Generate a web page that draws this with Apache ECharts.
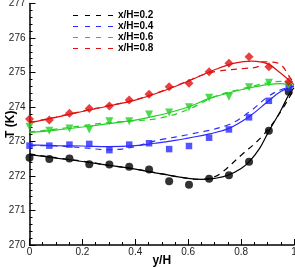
<!DOCTYPE html>
<html>
<head>
<meta charset="utf-8">
<script src="https://cdn.jsdelivr.net/npm/echarts@6/dist/echarts.min.js"></script>
<style>
html,body{margin:0;padding:0;background:#fff;}
#chart{width:295px;height:268px;}
</style>
</head>
<body>
<div id="chart"></div>
<script>
// Experimental points (y/H positions)
var expX = [0, 0.075, 0.151, 0.226, 0.302, 0.377, 0.452, 0.528, 0.603, 0.679, 0.754, 0.83, 0.905, 0.98];
var expBlack = [272.53, 272.49, 272.51, 272.34, 272.33, 272.27, 272.19, 271.85, 271.75, 271.92, 272.02, 272.41, 273.31, 274.44];
var expBlue  = [272.88, 272.88, 272.91, 272.93, 272.75, 272.91, 272.95, 272.78, 272.87, 273.11, 273.35, 273.70, 274.18, 274.56];
var expGreen = [273.43, 273.31, 273.38, 273.35, 273.59, 273.59, 273.78, 273.84, 273.99, 274.27, 274.30, 274.57, 274.70, 274.64];
var expRed   = [273.65, 273.62, 273.82, 273.96, 274.03, 274.20, 274.37, 274.59, 274.69, 275.02, 275.27, 275.46, 275.17, 274.73];

// Solid model curves
var blackSolidX = [0, 0.1, 0.2, 0.3, 0.4, 0.5, 0.6, 0.65, 0.7, 0.75, 0.8, 0.83, 0.87, 0.905, 0.95, 0.985, 1.0];
var blackSolidY = [272.62, 272.52, 272.42, 272.31, 272.2, 272.06, 271.93, 271.9, 271.93, 272.02, 272.22, 272.41, 272.8, 273.3, 273.9, 274.42, 274.55];
// Dashed model curves
var blackDashX = [0, 0.1, 0.2, 0.3, 0.4, 0.5, 0.6, 0.65, 0.7, 0.73, 0.8, 0.878, 0.94, 1.0];
var blackDashY = [272.64, 272.53, 272.43, 272.31, 272.2, 272.06, 271.93, 271.9, 271.98, 272.12, 272.6, 273.14, 273.75, 274.52];

var blueSolidX = [0, 0.1, 0.2, 0.3, 0.4, 0.475, 0.55, 0.6, 0.68, 0.754, 0.83, 0.9, 0.95, 1.0];
var blueSolidY = [272.9, 272.88, 272.87, 272.85, 272.88, 272.95, 273.03, 273.1, 273.22, 273.38, 273.72, 274.15, 274.45, 274.6];
var blueDashX = [0, 0.1, 0.2, 0.3, 0.4, 0.45, 0.5, 0.6, 0.75, 0.83, 0.9, 0.95, 1.0];
var blueDashY = [272.88, 272.87, 272.82, 272.76, 272.85, 272.97, 273.06, 273.2, 273.48, 273.85, 274.29, 274.5, 274.6];

var greenSolidX = [0, 0.1, 0.2, 0.3, 0.4, 0.45, 0.52, 0.6, 0.68, 0.75, 0.83, 0.9, 0.95, 1.0];
var greenSolidY = [273.26, 273.33, 273.42, 273.52, 273.62, 273.7, 273.82, 274.0, 274.25, 274.4, 274.55, 274.65, 274.68, 274.62];
var greenDashX = [0, 0.1, 0.2, 0.3, 0.4, 0.5, 0.6, 0.7, 0.8, 0.9, 0.95, 1.0];
var greenDashY = [273.28, 273.36, 273.46, 273.55, 273.6, 273.69, 273.93, 274.3, 274.52, 274.7, 274.74, 274.62];

var redSolidX = [0, 0.1, 0.2, 0.3, 0.4, 0.5, 0.6, 0.7, 0.78, 0.84, 0.9, 0.95, 1.0];
var redSolidY = [273.54, 273.7, 273.87, 274.03, 274.2, 274.45, 274.75, 275.08, 275.28, 275.33, 275.25, 274.98, 274.65];
var redDashX = [0, 0.1, 0.2, 0.3, 0.4, 0.5, 0.6, 0.65, 0.713, 0.815, 0.864, 0.879, 0.936, 0.992, 1.0];
var redDashY = [273.55, 273.71, 273.88, 274.04, 274.21, 274.46, 274.76, 274.92, 275.04, 275.12, 275.17, 275.31, 275.28, 274.78, 274.7];

var legendNames = ['x/H=0.2', 'x/H=0.4', 'x/H=0.6', 'x/H=0.8'];
var colors = ['#000000', '#2b2bff', '#22d022', '#e01010'];

var xTicks = [0, 0.2, 0.4, 0.6, 0.8, 1];
var yTicks = [270, 271, 272, 273, 274, 275, 276, 277];

function pairs(xs, ys) { return xs.map(function (x, i) { return [x, ys[i]]; }); }

var series = [];
var solids = [[blackSolidX, blackSolidY], [blueSolidX, blueSolidY], [greenSolidX, greenSolidY], [redSolidX, redSolidY]];
var dashes = [[blackDashX, blackDashY], [blueDashX, blueDashY], [greenDashX, greenDashY], [redDashX, redDashY]];
var exps = [expBlack, expBlue, expGreen, expRed];
var syms = ['circle', 'rect', 'triangle', 'diamond'];
var symSizes = [8, 6.5, 8, 9];
var symRot = [0, 0, 180, 0];

for (var k = 0; k < 4; k++) {
  series.push({
    name: 'solid' + k, type: 'line', smooth: 0.4, symbol: 'none',
    data: pairs(solids[k][0], solids[k][1]),
    lineStyle: { color: colors[k], width: 1.2, type: 'solid' },
    itemStyle: { color: colors[k] }, z: 2
  });
  series.push({
    name: legendNames[k], type: 'line', smooth: 0.4, symbol: 'none',
    data: pairs(dashes[k][0], dashes[k][1]),
    lineStyle: { color: colors[k], width: 1.2, type: [6, 5] },
    itemStyle: { color: colors[k] }, z: 2
  });
  series.push({
    name: 'exp' + k, type: 'scatter', symbol: syms[k], symbolSize: symSizes[k],
    symbolRotate: symRot[k],
    data: pairs(expX, exps[k]),
    itemStyle: { color: colors[k] }, z: 3
  });
}

var dashIcon = 'path://M0,0h5v1h-5z M12,0h5v1h-5z M23,0h5v1h-5z M35,0h5v1h-5z';

var chart = echarts.init(document.getElementById('chart'), null, { renderer: 'canvas' });
chart.setOption({
  animation: false,
  backgroundColor: '#ffffff',
  textStyle: { fontFamily: 'Liberation Sans, Arial, sans-serif' },
  legend: {
    data: legendNames.map(function (n, i) {
      return { name: n, icon: dashIcon, itemStyle: { color: colors[i], borderWidth: 0 } };
    }),
    orient: 'vertical',
    left: 68, top: 5,
    itemWidth: 40, itemHeight: 1.4, itemGap: 0,
    textStyle: { fontSize: 10, fontWeight: 'bold', color: '#000', lineHeight: 11, fontFamily: 'Liberation Sans, Arial, sans-serif' }
  },
  grid: { left: 29.5, right: 1, top: 3.5, bottom: 23, containLabel: false, outerBoundsMode: 'none' },
  xAxis: {
    type: 'value', min: xTicks[0], max: xTicks[xTicks.length - 1], interval: 0.2,
    name: 'y/H', nameLocation: 'middle', nameGap: 10, nameMoveOverlap: false,
    nameTextStyle: { fontSize: 12, fontWeight: 'bold', color: '#000', fontFamily: 'Liberation Sans, Arial, sans-serif' },
    axisLine: { lineStyle: { color: '#000', width: 1.5 } },
    axisTick: { inside: true, length: 6, lineStyle: { color: '#000', width: 1 } },
    minorTick: { show: true, splitNumber: 4, length: 3, lineStyle: { color: '#000', width: 1 } },
    axisLabel: { margin: 2, fontSize: 10, color: '#222',
      formatter: function (v) { return String(Math.round(v * 10) / 10); } },
    splitLine: { show: false }
  },
  yAxis: {
    type: 'value', min: yTicks[0], max: yTicks[yTicks.length - 1], interval: 1,
    name: 'T (K)', nameLocation: 'middle', nameGap: 13, nameRotate: 90, nameMoveOverlap: false,
    nameTextStyle: { fontSize: 12, fontWeight: 'bold', color: '#000', fontFamily: 'Liberation Sans, Arial, sans-serif' },
    axisLine: { show: true, lineStyle: { color: '#000', width: 1.5 } },
    axisTick: { show: true, inside: true, length: 6, lineStyle: { color: '#000', width: 1 } },
    minorTick: { show: true, splitNumber: 5, length: 3, lineStyle: { color: '#000', width: 1 } },
    axisLabel: { margin: 4, fontSize: 10, color: '#222' },
    splitLine: { show: false }
  },
  series: series
});
</script>
</body>
</html>
